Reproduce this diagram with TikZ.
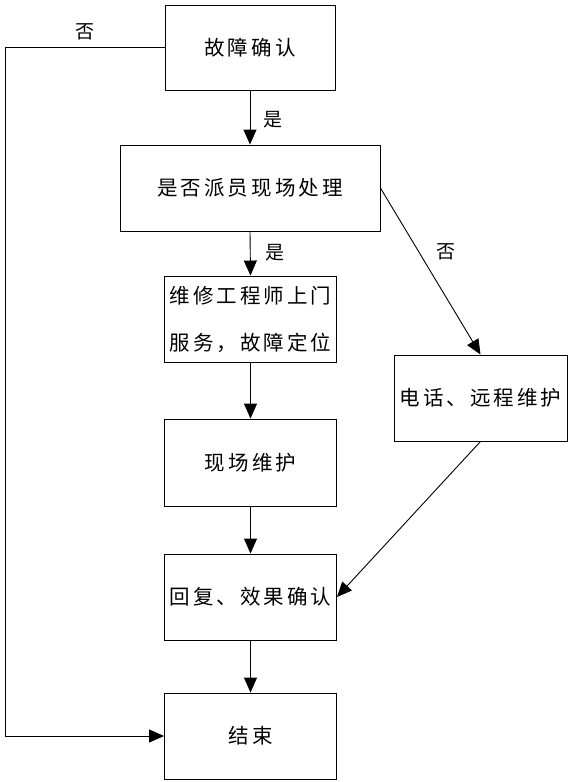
\documentclass[tikz,border=0pt]{standalone}
\usepackage{fontspec}
\newfontfamily\cjk[LetterSpace=15]{Noto Sans CJK SC}
\usetikzlibrary{arrows.meta}
\begin{document}
\begin{tikzpicture}[x=1pt,y=-1pt,
  box/.style={draw,line width=0.9pt,rectangle,inner sep=0pt,minimum width=172pt,minimum height=86pt,font=\cjk\fontsize{20.5pt}{24pt}\selectfont,align=center},
  lbl/.style={font=\cjk\fontsize{19pt}{22pt}\selectfont,inner sep=0pt},
  arr/.style={line width=0.9pt,-{Triangle[width=13pt,length=15pt]}},
  ln/.style={line width=0.9pt}]
\useasboundingbox (0,0) rectangle (572,782);
\node[box,minimum width=170pt,minimum height=85pt] (b1) at (250,47.5) {故障确认};
\node[box,minimum width=260pt] (b2) at (250,188) {是否派员现场处理};
\node[box,font=\cjk\fontsize{20.5pt}{47pt}\selectfont] (b3) at (250.5,319) {维修工程师上门\\服务，故障定位};
\node[box,minimum height=87pt] (b4) at (250.5,462.5) {现场维护};
\node[box] (b5) at (250.5,597) {回复、效果确认};
\node[box] (b6) at (250.5,736) {结束};
\node[box,minimum width=173pt] (b7) at (480.5,398) {电话、远程维护};
\coordinate (c1) at (5,47.5);
\coordinate (c2) at (5,736);
\draw[arr] (b1.south) -- (b2.north);
\draw[arr] (b2.south) -- (b3.north);
\draw[arr] (b3) -- (b4);
\draw[arr] (b4) -- (b5);
\draw[arr] (b5) -- (b6);
\draw[arr] (b2.east) -- (b7.north);
\draw[arr] (b7.south) -- (b5.east);
\draw[arr] (b1.west) -- (c1) -- (c2) -- (b6.west);
\node[lbl] (l1) at (273,120) {是};
\node[lbl] (l2) at (275,253) {是};
\node[lbl] (l3) at (85,32) {否};
\node[lbl] (l4) at (446,252) {否};
\end{tikzpicture}
\end{document}
